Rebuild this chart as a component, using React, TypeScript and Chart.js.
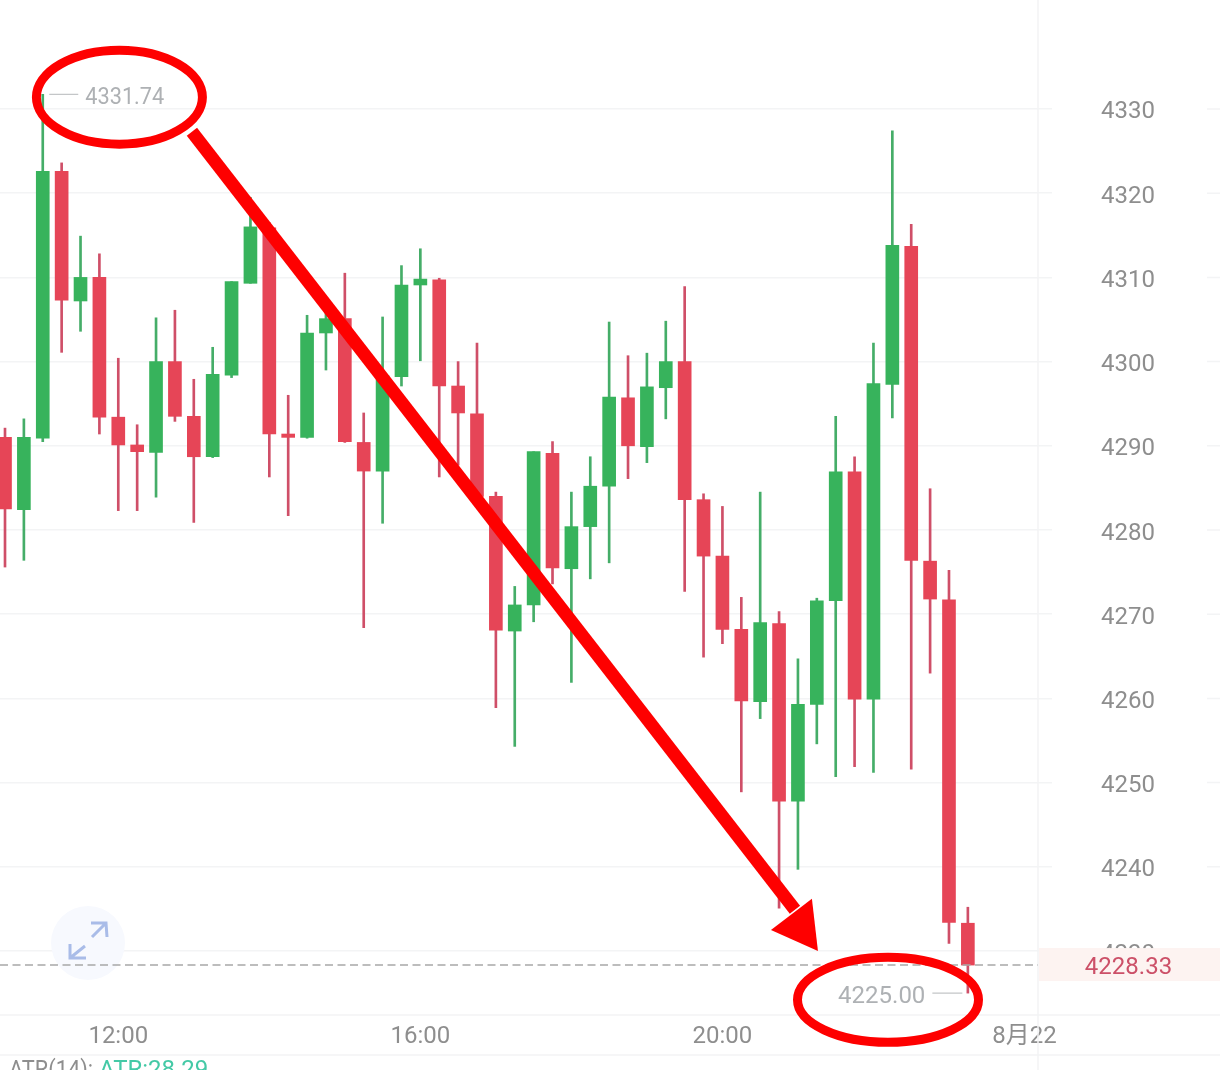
import React, { useEffect, useRef } from "react";
import { Chart, registerables } from "chart.js";

Chart.register(...registerables);

const opens = [
  4291.0, 4282.4, 4290.9, 4322.6, 4307.2, 4310.0, 4293.4, 4290.1, 4289.2, 4300.0, 4293.5, 4288.7, 4298.4,
  4309.3, 4315.9, 4291.4, 4291.0, 4303.4, 4305.1, 4290.4, 4287.0, 4298.2, 4309.1, 4309.7, 4297.1, 4293.8,
  4284.0, 4268.0, 4271.1, 4289.1, 4275.4, 4280.4, 4285.2, 4295.7, 4289.9, 4296.9, 4300.0, 4283.6, 4276.9,
  4268.2, 4259.6, 4268.9, 4247.8, 4259.3, 4271.6, 4286.9, 4259.9, 4297.3, 4313.7, 4276.3, 4271.7, 4233.3,
];
const closes = [
  4282.5, 4291.0, 4322.6, 4307.3, 4310.0, 4293.4, 4290.1, 4289.3, 4300.0, 4293.5, 4288.7, 4298.5, 4309.5,
  4316.0, 4291.4, 4291.0, 4303.4, 4305.1, 4290.5, 4287.0, 4298.3, 4309.1, 4309.8, 4297.1, 4293.9, 4284.0,
  4268.1, 4271.1, 4289.3, 4275.5, 4280.4, 4285.2, 4295.8, 4290.0, 4297.0, 4300.0, 4283.6, 4276.9, 4268.2,
  4259.7, 4269.0, 4247.8, 4259.3, 4271.6, 4286.9, 4259.9, 4297.4, 4313.8, 4276.4, 4271.8, 4233.4, 4228.33,
];
const highs = [
  4292.1, 4293.2, 4331.74, 4323.6, 4314.9, 4312.8, 4300.4, 4292.5, 4305.2, 4306.1, 4297.9, 4301.7, 4309.5,
  4319.5, 4316.5, 4296.0, 4305.5, 4307.6, 4310.5, 4293.9, 4305.3, 4311.4, 4313.4, 4309.9, 4300.0, 4302.2,
  4284.5, 4273.3, 4289.3, 4290.5, 4284.5, 4288.7, 4304.7, 4300.7, 4301.0, 4304.8, 4308.9, 4284.3, 4282.8,
  4272.0, 4284.5, 4270.3, 4264.7, 4271.9, 4293.5, 4288.7, 4302.2, 4327.4, 4316.3, 4284.9, 4275.2, 4235.2,
];
const lows = [
  4275.6, 4276.4, 4290.5, 4301.1, 4303.6, 4291.4, 4282.3, 4282.3, 4283.9, 4292.9, 4280.9, 4288.6, 4298.1,
  4309.3, 4286.3, 4281.7, 4290.9, 4299.0, 4290.4, 4268.4, 4280.8, 4297.1, 4300.1, 4286.3, 4287.7, 4283.9,
  4258.9, 4254.3, 4269.1, 4273.6, 4261.9, 4274.2, 4276.1, 4286.1, 4288.0, 4293.2, 4272.7, 4264.9, 4266.5,
  4248.9, 4257.6, 4235.1, 4239.7, 4254.6, 4250.7, 4251.9, 4251.2, 4293.3, 4251.6, 4263.0, 4230.9, 4225.0,
];
const priceTicks = [4230, 4240, 4250, 4260, 4270, 4280, 4290, 4300, 4310, 4320, 4330];
const timeTickIndex = [6, 22, 38, 54];
const timeTickLabels = ["12:00", "16:00", "20:00", "8月22"];
const indicatorName = "ATR(14):";
const indicatorValue = "ATR:28.29";

// hand-drawn red annotations, anchored in candle index / price
const highRing = { i: 6.06, p: 4331.4 };
const lowRing = { i: 46.77, p: 4224.2 };
const arrowStart = { i: 9.9, p: 4327.3 };
const arrowShaftEnd = { i: 41.84, p: 4234.9 };
const arrowTip = { i: 43.06, p: 4230.0 };
const arrowWingA = { i: 40.57, p: 4232.5 };
const arrowWingB = { i: 42.74, p: 4236.2 };

const GREEN = "#37b35c";
const RED = "#e64557";
const GREEN_WICK = "#45ad68";
const RED_WICK = "#cf4f68";
const GRID = "#f3f4f5";
const FONT = "Roboto, 'Noto Sans CJK SC', sans-serif";

const overlay = {
  id: "overlay",
  beforeDraw(chart: any) {
    // Roboto's digits ride high on a "middle" baseline: nudge the y tick labels down
    const s = chart.scales.y;
    if (s._computeLabelItems) {
      const items = s._computeLabelItems(chart.chartArea);
      items.forEach((it: any) => {
        it.textOffset += 3.5;
      });
      s._labelItems = items;
    }
  },
  beforeDatasetsDraw(chart: any) {
    const { ctx, chartArea: a, scales } = chart;
    const W = chart.width;
    const H = chart.height;
    ctx.save();
    // axis frame
    ctx.strokeStyle = GRID;
    ctx.lineWidth = 1.5;
    ctx.beginPath();
    ctx.moveTo(0, a.bottom);
    ctx.lineTo(W, a.bottom);
    ctx.moveTo(0, a.bottom + 40);
    ctx.lineTo(W, a.bottom + 40);
    ctx.moveTo(a.right, 0);
    ctx.lineTo(a.right, H);
    // grid stubs at right edge
    for (const t of priceTicks) {
      const y = scales.y.getPixelForValue(t);
      ctx.moveTo(W - 13, y);
      ctx.lineTo(W, y);
    }
    ctx.stroke();
    // expand button
    ctx.fillStyle = "#f7f9fe";
    ctx.beginPath();
    ctx.arc(88, 943, 37, 0, Math.PI * 2);
    ctx.fill();
    ctx.strokeStyle = "#a9bce8";
    ctx.lineWidth = 3;
    ctx.beginPath();
    ctx.moveTo(92, 937);
    ctx.lineTo(106, 923);
    ctx.moveTo(91, 923);
    ctx.lineTo(106, 923);
    ctx.lineTo(107, 937);
    ctx.moveTo(85, 946);
    ctx.lineTo(70, 958);
    ctx.moveTo(70, 944);
    ctx.lineTo(70, 958);
    ctx.lineTo(86, 958);
    ctx.stroke();
    ctx.restore();
  },
  afterDraw(chart: any) {
    const { ctx, chartArea: a, scales } = chart;
    const X = (i: number) => scales.x.getPixelForValue(i);
    const Y = (p: number) => scales.y.getPixelForValue(p);
    const W = chart.width;
    const last = closes[closes.length - 1];
    ctx.save();

    // last price line and tag
    ctx.strokeStyle = "#a8a8a8";
    ctx.lineWidth = 1.6;
    ctx.setLineDash([8, 4.5]);
    ctx.beginPath();
    ctx.moveTo(0, Y(last));
    ctx.lineTo(a.right, Y(last));
    ctx.stroke();
    ctx.setLineDash([]);
    ctx.fillStyle = "#fdf3f1";
    ctx.fillRect(a.right + 1, Y(last) - 17, W - a.right, 33);
    ctx.font = `24px ${FONT}`;
    ctx.textBaseline = "middle";
    ctx.textAlign = "center";
    ctx.fillStyle = "#cc5068";
    ctx.fillText(last.toFixed(2), 1128.5, Y(last) + 3);

    // high / low labels
    const hi = Math.max(...highs);
    const lo = Math.min(...lows);
    const hiI = highs.indexOf(hi);
    const loI = lows.indexOf(lo);
    ctx.strokeStyle = "#c4c6c8";
    ctx.lineWidth = 1.2;
    ctx.beginPath();
    ctx.moveTo(X(hiI) + 6.5, Y(hi));
    ctx.lineTo(X(hiI) + 35.5, Y(hi));
    ctx.moveTo(X(loI) - 35.5, Y(lo));
    ctx.lineTo(X(loI) - 5.5, Y(lo));
    ctx.stroke();
    ctx.fillStyle = "#aeb1b4";
    ctx.textAlign = "left";
    ctx.fillText(hi.toFixed(2), X(hiI) + 42.5, Y(hi) + 4, 79);
    ctx.textAlign = "right";
    ctx.fillText(lo.toFixed(2), X(loI) - 42.5, Y(lo) + 4);

    // indicator caption, cut by the window edge
    ctx.textAlign = "left";
    ctx.textBaseline = "alphabetic";
    ctx.fillStyle = "#8e8e8e";
    ctx.fillText(indicatorName, 9, 1077, 84);
    ctx.fillStyle = "#44c9a6";
    ctx.fillText(indicatorValue, 99, 1077);

    // red annotations
    ctx.strokeStyle = "#fe0000";
    ctx.fillStyle = "#fe0000";
    ctx.lineWidth = 9;
    ctx.beginPath();
    ctx.ellipse(X(highRing.i), Y(highRing.p), 83, 47, 0, 0, Math.PI * 2);
    ctx.stroke();
    ctx.beginPath();
    ctx.ellipse(X(lowRing.i), Y(lowRing.p), 90.5, 42.5, 0, 0, Math.PI * 2);
    ctx.stroke();
    ctx.lineWidth = 13;
    ctx.beginPath();
    ctx.moveTo(X(arrowStart.i), Y(arrowStart.p));
    ctx.lineTo(X(arrowShaftEnd.i), Y(arrowShaftEnd.p));
    ctx.stroke();
    ctx.beginPath();
    ctx.moveTo(X(arrowTip.i), Y(arrowTip.p));
    ctx.lineTo(X(arrowWingA.i), Y(arrowWingA.p));
    ctx.lineTo(X(arrowWingB.i), Y(arrowWingB.p));
    ctx.closePath();
    ctx.fill();
    ctx.restore();
  },
};

export default function App() {
  const ref = useRef<HTMLCanvasElement | null>(null);

  useEffect(() => {
    document.body.style.margin = "0";
    const isUp = opens.map((o, i) => closes[i] > o);
    const chart = new Chart(ref.current as HTMLCanvasElement, {
      type: "bar",
      data: {
        datasets: [
          {
            label: "body",
            data: opens.map((o, i) => ({ x: i, y: [o, closes[i]] })),
            backgroundColor: isUp.map((u) => (u ? GREEN : RED)),
            barThickness: 13,
            borderWidth: 0,
            grouped: false,
          },
          {
            label: "wick",
            data: lows.map((l, i) => ({ x: i, y: [l, highs[i]] })),
            backgroundColor: isUp.map((u) => (u ? GREEN_WICK : RED_WICK)),
            barThickness: 2,
            borderWidth: 0,
            grouped: false,
          },
        ],
      } as any,
      options: {
        responsive: false,
        animation: false,
        layout: { padding: 0 },
        plugins: { legend: { display: false }, title: { display: false }, tooltip: { enabled: false } },
        scales: {
          x: {
            type: "linear",
            offset: false,
            min: -0.265,
            max: 54.715,
            afterFit: (s: any) => {
              s.height = 55;
              s.paddingLeft = 0;
              s.paddingRight = 0;
              s.paddingTop = 0;
              s.paddingBottom = 0;
            },
            afterBuildTicks: (s: any) => {
              s.ticks = timeTickIndex.map((value) => ({ value }));
            },
            border: { display: false },
            grid: { display: false, offset: false },
            ticks: {
              autoSkip: false,
              maxRotation: 0,
              padding: 0,
              color: "#8e8e8e",
              font: { family: FONT, size: 24 },
              callback: (v: any) => timeTickLabels[timeTickIndex.indexOf(Number(v))] ?? "",
            },
          },
          y: {
            type: "linear",
            position: "right",
            min: 4222.4,
            max: 4342.945,
            afterFit: (s: any) => {
              s.width = 182;
              s.paddingLeft = 0;
              s.paddingRight = 0;
              s.paddingTop = 0;
              s.paddingBottom = 0;
            },
            afterBuildTicks: (s: any) => {
              s.ticks = priceTicks.map((value) => ({ value }));
            },
            border: { display: false },
            grid: { color: GRID, lineWidth: 1.5, tickLength: 14, tickColor: GRID },
            ticks: {
              crossAlign: "center",
              padding: 49,
              color: "#8e8e8e",
              font: { family: FONT, size: 24 },
              callback: (v: any) => String(v),
            },
          },
        },
      } as any,
      plugins: [overlay],
    });
    return () => chart.destroy();
  }, []);

  return <canvas ref={ref} width={1220} height={1070} style={{ display: "block" }} />;
}
